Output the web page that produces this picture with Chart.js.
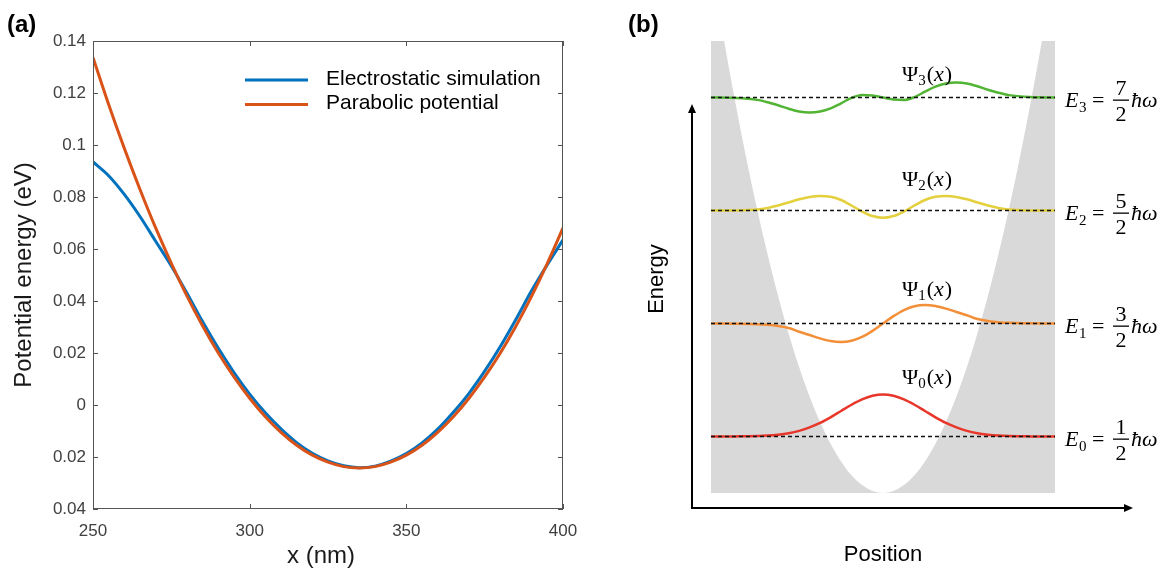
<!DOCTYPE html>
<html>
<head>
<meta charset="utf-8">
<script src="https://cdn.jsdelivr.net/npm/chart.js@4.4.1/dist/chart.umd.min.js"></script>
<style>
  body { margin: 0; background: #fff; }
  #wrap { position: relative; width: 1163px; height: 570px; }
  #chartA { position: absolute; left: 0; top: 0; }
  #chartB { position: absolute; left: 600px; top: 0; }
</style>
</head>
<body>
<div id="wrap">
  <canvas id="chartA" width="600" height="570"></canvas>
  <canvas id="chartB" width="563" height="570"></canvas>
</div>
<script>
// ---- (a) potential energy along the channel ----
const xNm = [250, 255, 260, 265, 270, 275, 280, 285, 290, 295, 300, 305, 310, 315, 320, 325,
  330, 335, 340, 345, 350, 355, 360, 365, 370, 375, 380, 385, 390, 395, 400];
const electrostatic = [0.0935, 0.0882, 0.0810, 0.0725, 0.0630, 0.0535, 0.0430, 0.0320, 0.0218, 0.0125,
  0.0042, -0.0030, -0.0092, -0.0145, -0.0186, -0.0215, -0.0234, -0.0241, -0.0235, -0.0216, -0.0187,
  -0.0146, -0.0093, -0.0028, 0.0045, 0.0130, 0.0225, 0.0330, 0.0440, 0.0540, 0.0635];
const parabolic = [0.1337, 0.1156, 0.0987, 0.0829, 0.0681, 0.0545, 0.0419, 0.0304, 0.0200, 0.0108,
  0.0026, -0.0045, -0.0105, -0.0155, -0.0193, -0.0220, -0.0237, -0.0242, -0.0237, -0.0220, -0.0193,
  -0.0155, -0.0105, -0.0045, 0.0026, 0.0108, 0.0200, 0.0304, 0.0419, 0.0545, 0.0681];
const xTicks = [250, 300, 350, 400];
const yTicks = [-0.04, -0.02, 0, 0.02, 0.04, 0.06, 0.08, 0.1, 0.12, 0.14];
const yTickLabels = ['0.04', '0.02', '0', '0.02', '0.04', '0.06', '0.08', '0.1', '0.12', '0.14'];

// ---- (b) harmonic oscillator sketch (energy in units of ħω) ----
const levels = [0.5, 1.5, 2.5, 3.5];
const levelNumerators = ['1', '3', '5', '7'];
const position = [-4.1, -3.5, -3, -2.75, -2.5, -2.25, -2, -1.75, -1.5, -1.25, -1, -0.75, -0.5, -0.25,
  0, 0.25, 0.5, 0.75, 1, 1.25, 1.5, 1.75, 2, 2.25, 2.5, 2.75, 3, 3.5, 4.1];
const psi0 = [0, 0.001, 0.004, 0.008, 0.016, 0.029, 0.050, 0.081, 0.120, 0.170, 0.226, 0.281, 0.328, 0.360,
  0.372, 0.360, 0.328, 0.281, 0.226, 0.170, 0.120, 0.081, 0.050, 0.029, 0.016, 0.008, 0.004, 0.001, 0];
const psi1 = [0, -0.002, -0.006, -0.012, -0.023, -0.040, -0.073, -0.102, -0.132, -0.155, -0.164, -0.153, -0.119, -0.065,
  0, 0.065, 0.119, 0.153, 0.164, 0.155, 0.132, 0.102, 0.073, 0.040, 0.023, 0.012, 0.006, 0.002, 0];
const psi2 = [0, 0.001, 0.009, 0.023, 0.044, 0.071, 0.099, 0.120, 0.129, 0.122, 0.093, 0.044, -0.009, -0.049,
  -0.065, -0.049, -0.009, 0.044, 0.093, 0.122, 0.129, 0.120, 0.099, 0.071, 0.044, 0.023, 0.009, 0.001, 0];
const psi3 = [0, -0.004, -0.021, -0.042, -0.069, -0.099, -0.124, -0.133, -0.124, -0.096, -0.051, -0.004, 0.022, 0.018,
  0, -0.018, -0.022, 0.004, 0.051, 0.096, 0.124, 0.133, 0.124, 0.099, 0.069, 0.042, 0.021, 0.004, 0];
const wellX = [-4.1, -4, -3.75, -3.5, -3.25, -3, -2.75, -2.5, -2.25, -2, -1.75, -1.5, -1.25, -1, -0.75, -0.5, -0.25,
  0, 0.25, 0.5, 0.75, 1, 1.25, 1.5, 1.75, 2, 2.25, 2.5, 2.75, 3, 3.25, 3.5, 3.75, 4, 4.1];
const wellV = [4.69, 4.464, 3.923, 3.418, 2.947, 2.511, 2.110, 1.744, 1.412, 1.116, 0.854, 0.628, 0.436, 0.279, 0.157, 0.070, 0.017,
  0, 0.017, 0.070, 0.157, 0.279, 0.436, 0.628, 0.854, 1.116, 1.412, 1.744, 2.110, 2.511, 2.947, 3.418, 3.923, 4.464, 4.69];

const waves = [psi0, psi1, psi2, psi3];
const waveColors = ['#e8362a', '#f28f38', '#e4d03d', '#52b434'];

const SANS = '"Liberation Sans", Arial, sans-serif';
const SERIF = '"Liberation Serif", "Times New Roman", serif';

// box, inward ticks, legend and titles for panel (a)
const frameA = {
  id: 'frameA',
  afterDraw(chart) {
    const { ctx, chartArea: a, scales } = chart;
    ctx.save();
    ctx.strokeStyle = '#555';
    ctx.lineWidth = 1;
    ctx.strokeRect(a.left + 0.5, a.top + 0.5, a.right - a.left - 1, a.bottom - a.top - 1);
    ctx.beginPath();
    yTicks.forEach(v => {
      const y = Math.round(scales.y.getPixelForValue(v)) + 0.5;
      ctx.moveTo(a.left, y); ctx.lineTo(a.left + 5, y);
      ctx.moveTo(a.right, y); ctx.lineTo(a.right - 5, y);
    });
    xTicks.forEach(v => {
      const x = Math.round(scales.x.getPixelForValue(v)) + 0.5;
      ctx.moveTo(x, a.bottom); ctx.lineTo(x, a.bottom - 5);
      ctx.moveTo(x, a.top); ctx.lineTo(x, a.top + 5);
    });
    ctx.stroke();

    // legend
    ctx.font = '21px ' + SANS;
    ctx.textBaseline = 'middle';
    ctx.fillStyle = '#000';
    chart.data.datasets.forEach((ds, i) => {
      const y = a.top + 39 + i * 24.5;
      ctx.strokeStyle = ds.borderColor;
      ctx.lineWidth = 3;
      ctx.beginPath();
      ctx.moveTo(a.left + 152, y);
      ctx.lineTo(a.left + 215, y);
      ctx.stroke();
      ctx.fillText(ds.label, a.left + 233, y - 1);
    });

    // axis titles
    ctx.fillStyle = '#1a1a1a';
    ctx.font = '24px ' + SANS;
    ctx.textAlign = 'center';
    ctx.fillText('x (nm)', 321, 556);
    ctx.save();
    ctx.translate(24, (a.top + a.bottom) / 2);
    ctx.rotate(-Math.PI / 2);
    ctx.fillText('Potential energy (eV)', 0, 0);
    ctx.restore();

    ctx.fillStyle = '#000';
    ctx.textAlign = 'left';
    ctx.font = 'bold 24px ' + SANS;
    ctx.fillText('(a)', 7, 25);
    ctx.restore();
  }
};

new Chart(document.getElementById('chartA'), {
  type: 'line',
  data: {
    datasets: [
      {
        label: 'Electrostatic simulation',
        data: xNm.map((x, i) => ({ x, y: electrostatic[i] })),
        borderColor: '#0072BD',
        borderWidth: 3,
        pointRadius: 0,
        cubicInterpolationMode: 'monotone',
        order: 2
      },
      {
        label: 'Parabolic potential',
        data: xNm.map((x, i) => ({ x, y: parabolic[i] })),
        borderColor: '#D95319',
        borderWidth: 3,
        pointRadius: 0,
        cubicInterpolationMode: 'monotone',
        order: 1
      }
    ]
  },
  options: {
    responsive: false,
    animation: false,
    layout: { padding: { top: 41, right: 37, left: 0, bottom: 0 } },
    plugins: { legend: { display: false }, tooltip: { enabled: false } },
    scales: {
      x: {
        type: 'linear',
        min: 250,
        max: 400,
        afterBuildTicks: s => { s.ticks = xTicks.map(v => ({ value: v })); },
        afterFit: s => { s.height = 61; },
        grid: { display: false, drawTicks: false },
        border: { display: false },
        ticks: { autoSkip: false, maxRotation: 0, padding: 12, color: '#404040', font: { family: SANS, size: 17 } }
      },
      y: {
        type: 'linear',
        min: -0.04,
        max: 0.14,
        afterBuildTicks: s => { s.ticks = yTicks.map(v => ({ value: v })); },
        afterFit: s => { s.width = 93; },
        grid: { display: false, drawTicks: false },
        border: { display: false },
        ticks: {
          autoSkip: false,
          padding: 7,
          color: '#404040',
          font: { family: SANS, size: 17 },
          callback: (v, i) => yTickLabels[i]
        }
      }
    }
  },
  plugins: [frameA]
});

// arrows, level formulas and wavefunction names for panel (b)
function drawPsiLabel(ctx, n, x, y) {
  ctx.font = '22px ' + SERIF;
  ctx.fillText('Ψ', x, y); x += ctx.measureText('Ψ').width;
  ctx.font = '15px ' + SERIF;
  ctx.fillText(String(n), x, y + 4); x += ctx.measureText(String(n)).width + 1;
  ctx.font = '22px ' + SERIF;
  ctx.fillText('(', x, y); x += ctx.measureText('(').width;
  ctx.font = 'italic 22px ' + SERIF;
  ctx.fillText('x', x, y); x += ctx.measureText('x').width + 1;
  ctx.font = '22px ' + SERIF;
  ctx.fillText(')', x, y);
}

function drawEnergyLabel(ctx, n, x, yl) {
  ctx.textAlign = 'left';
  ctx.font = 'italic 22px ' + SERIF;
  ctx.fillText('E', x, yl + 9);
  ctx.font = '15px ' + SERIF;
  ctx.fillText(String(n), x + 14, yl + 14);
  ctx.font = '22px ' + SERIF;
  ctx.fillText('=', x + 27, yl + 9);
  // fraction
  ctx.fillRect(x + 48, yl + 2, 16, 1.3);
  ctx.textAlign = 'center';
  ctx.fillText(levelNumerators[n], x + 56, yl - 3);
  ctx.fillText('2', x + 56, yl + 23);
  ctx.textAlign = 'left';
  ctx.font = 'italic 22px ' + SERIF;
  ctx.fillText('ħω', x + 66, yl + 9);
}

const psiLabelLift = [53, 28, 25, 17];

const sketchB = {
  id: 'sketchB',
  afterDraw(chart) {
    const { ctx, chartArea: a, scales: { x, y } } = chart;
    ctx.save();
    ctx.strokeStyle = '#000';
    ctx.fillStyle = '#000';
    ctx.lineWidth = 2;

    // energy / position axes with arrow heads
    const ox = a.left - 19, oy = a.bottom + 15;
    const topTip = a.top + 63, rightTip = a.right + 78;
    ctx.beginPath();
    ctx.moveTo(ox, oy);
    ctx.lineTo(ox, topTip + 6);
    ctx.moveTo(ox - 1, oy);
    ctx.lineTo(rightTip - 6, oy);
    ctx.stroke();
    ctx.beginPath();
    ctx.moveTo(ox, topTip);
    ctx.lineTo(ox - 4, topTip + 9);
    ctx.lineTo(ox + 4, topTip + 9);
    ctx.closePath();
    ctx.moveTo(rightTip, oy);
    ctx.lineTo(rightTip - 9, oy - 4);
    ctx.lineTo(rightTip - 9, oy + 4);
    ctx.closePath();
    ctx.fill();

    // level formulas and wavefunction names
    ctx.textBaseline = 'alphabetic';
    levels.forEach((lv, n) => {
      const yl = y.getPixelForValue(lv);
      drawEnergyLabel(ctx, n, a.right + 10, yl);
      ctx.textAlign = 'left';
      drawPsiLabel(ctx, n, x.getPixelForValue(0) + 19, yl - psiLabelLift[n]);
    });

    // axis names
    ctx.font = '22px ' + SANS;
    ctx.textAlign = 'center';
    ctx.textBaseline = 'middle';
    ctx.fillText('Position', x.getPixelForValue(0), 555);
    ctx.save();
    ctx.translate(57, 279);
    ctx.rotate(-Math.PI / 2);
    ctx.fillText('Energy', 0, 0);
    ctx.restore();

    ctx.textAlign = 'left';
    ctx.font = 'bold 24px ' + SANS;
    ctx.fillText('(b)', 28, 25);
    ctx.restore();
  }
};

const levelLines = levels.map(lv => ({
  data: [{ x: -4.1, y: lv }, { x: 4.1, y: lv }],
  borderColor: '#111',
  borderWidth: 1.5,
  borderDash: [4, 3],
  pointRadius: 0,
  order: 0
}));

const waveLines = waves.map((psi, n) => ({
  data: position.map((p, j) => ({ x: p, y: levels[n] + psi[j] })),
  borderColor: waveColors[n],
  borderWidth: 2.5,
  pointRadius: 0,
  cubicInterpolationMode: 'monotone',
  order: 1
}));

// grey region where the potential lies above the energy
const well = {
  data: wellX.map((p, j) => ({ x: p, y: wellV[j] })),
  borderWidth: 0,
  borderColor: 'rgba(0,0,0,0)',
  backgroundColor: '#d9d9d9',
  fill: 'start',
  pointRadius: 0,
  cubicInterpolationMode: 'monotone',
  order: 3
};

new Chart(document.getElementById('chartB'), {
  type: 'line',
  data: { datasets: [...levelLines, ...waveLines, well] },
  options: {
    responsive: false,
    animation: false,
    layout: { padding: { left: 111, right: 108, top: 41, bottom: 77 } },
    plugins: { legend: { display: false }, tooltip: { enabled: false } },
    scales: {
      x: { type: 'linear', min: -4.1, max: 4.1, display: false },
      y: { type: 'linear', min: 0, max: 4, display: false }
    }
  },
  plugins: [sketchB]
});
</script>
</body>
</html>
